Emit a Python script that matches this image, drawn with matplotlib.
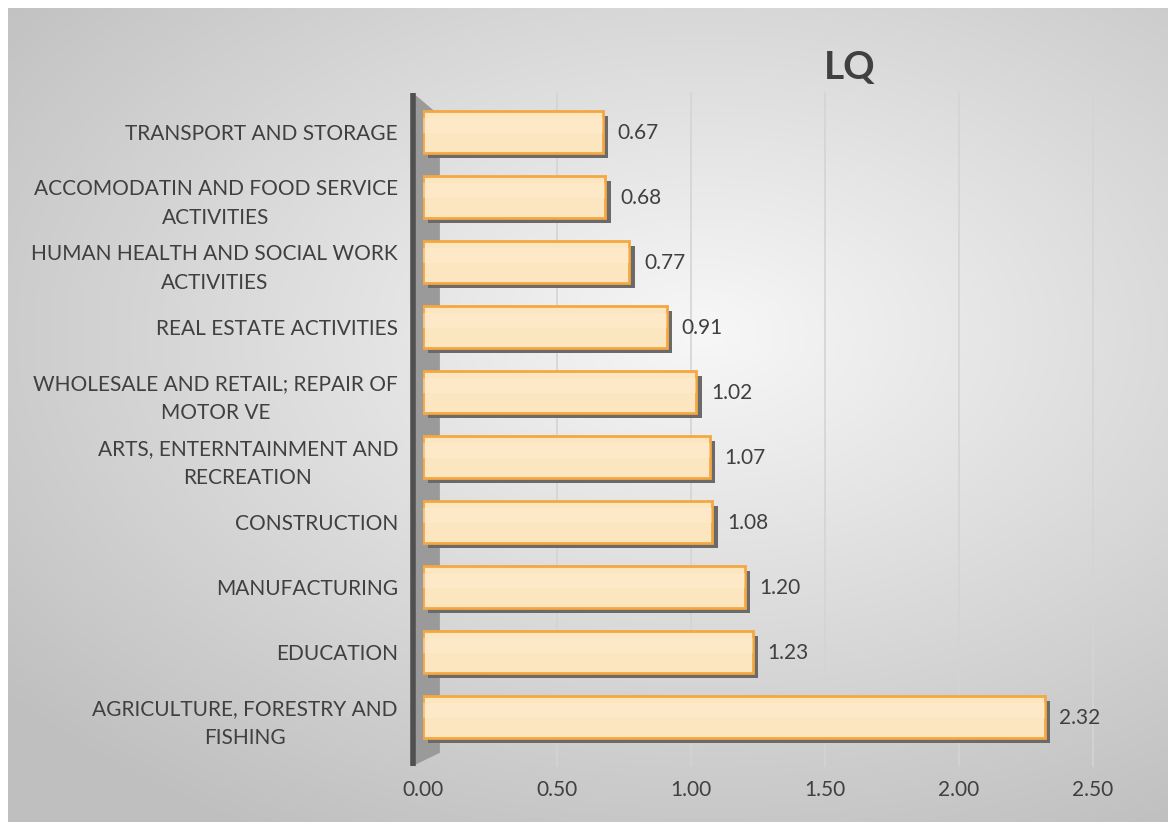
import numpy as np
import matplotlib
matplotlib.use("Agg")
import matplotlib.pyplot as plt
from matplotlib.patches import Polygon

# data, bottom to top as drawn
categories = [
    "AGRICULTURE, FORESTRY AND\nFISHING",
    "EDUCATION",
    "MANUFACTURING",
    "CONSTRUCTION",
    "ARTS, ENTERNTAINMENT AND\nRECREATION",
    "WHOLESALE AND RETAIL; REPAIR OF\nMOTOR VE",
    "REAL ESTATE ACTIVITIES",
    "HUMAN HEALTH AND SOCIAL WORK\nACTIVITIES",
    "ACCOMODATIN AND FOOD SERVICE\nACTIVITIES",
    "TRANSPORT AND STORAGE",
]
lq = [2.32, 1.23, 1.20, 1.08, 1.07, 1.02, 0.91, 0.77, 0.68, 0.67]
xticks = [0.0, 0.5, 1.0, 1.5, 2.0, 2.5]

plt.rcParams['font.family'] = ['Lato', 'DejaVu Sans']
txt = '#404040'

fig = plt.figure(figsize=(11.76, 8.25), dpi=100, facecolor='white')

# radial grey background of the chart area
bg = fig.add_axes([8 / 1176, 3 / 825, 1160 / 1176, 814 / 825])
yy, xx = np.mgrid[0:1:300j, 0:1:420j]
r = np.sqrt(((xx - 0.6) / 1.0) ** 2 + ((yy - 0.6) / 0.9) ** 2)
shade = np.clip(0.97 - 0.28 * r, 0.75, 0.97)
bg.imshow(np.dstack([shade, shade, shade]), extent=[0, 1, 0, 1], aspect='auto',
          origin='lower', interpolation='bicubic')
bg.axis('off')

ax = fig.add_axes([423 / 1176, 75.5 / 825, 670 / 1176, 650 / 825])
ax.patch.set_alpha(0)
y = np.arange(len(categories))

# vertical gridlines
for t in xticks[1:]:
    ax.plot([t, t], [-0.75, 9.6], color='#d4d4d4', lw=1.2, zorder=0, clip_on=False)

# side wall on the left
wall = Polygon([[-0.037, -0.75], [-0.037, 9.6], [0.063, 9.25], [0.063, -0.55]],
               closed=True, facecolor='#9a9a9a', edgecolor='none', zorder=1, clip_on=False)
ax.add_patch(wall)
ax.plot([-0.037, -0.037], [-0.75, 9.6], color='#505050', lw=4, zorder=2,
        clip_on=False, solid_capstyle='butt')

h = 0.64
# bar shadows then bars
ax.barh(y - 0.08, lq, left=0.02, height=h, color='#6a6a6a', zorder=2)
ax.barh(y, lq, height=h, color='#fce6c0', edgecolor='#f5a742', linewidth=2, zorder=3)
ax.barh(y + 0.1, lq, height=h * 0.35, color='#fff0d6', alpha=0.35, zorder=4, linewidth=0)

for yi, v in zip(y, lq):
    ax.text(v + 0.055, yi - 0.02, f"{v:.2f}", va='center', ha='left', fontsize=15, color=txt)

ax.set_xlim(0, 2.5)
ax.set_ylim(-0.5, 9.5)
ax.set_yticks(y)
ax.set_yticklabels(categories, fontsize=15, color=txt, multialignment='center',
                   linespacing=1.55)
ax.set_xticks(xticks)
ax.set_xticklabels([f"{t:.2f}" for t in xticks], fontsize=15, color=txt)
ax.tick_params(axis='y', length=0, pad=18)
ax.tick_params(axis='x', length=0, pad=22)
for s in ax.spines.values():
    s.set_visible(False)

fig.text(850 / 1176, 1 - 68 / 825, "LQ", fontsize=28, fontweight='bold', color='#404040',
         ha='center', va='center')

fig.savefig("out.png", dpi=100, facecolor='white')
